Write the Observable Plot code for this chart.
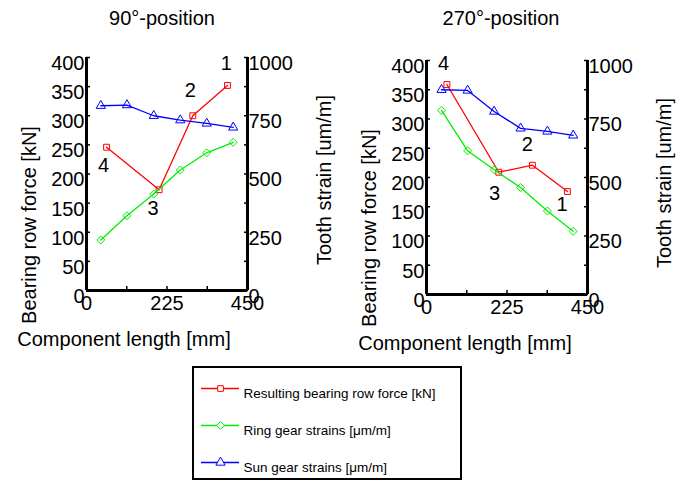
<!DOCTYPE html>
<html>
<head>
<meta charset="utf-8">
<script src="https://cdn.jsdelivr.net/npm/d3@7"></script>
<script src="https://cdn.jsdelivr.net/npm/@observablehq/plot@0.6"></script>
<style>
  html, body { margin: 0; padding: 0; background: white; }
  #root { position: relative; width: 686px; height: 482px; background: white; overflow: hidden;
          font-family: "Liberation Sans", Arial, sans-serif; color: black; }
  .lay { position: absolute; left: 0; top: 0; }
  .txt { position: absolute; white-space: nowrap; line-height: 1; font-size: 20px; }
  .rot { transform: translate(-50%, -50%) rotate(-90deg); }
  .ctr { transform: translate(-50%, -50%); }
</style>
</head>
<body>
<div id="root"></div>
<script>
// ---------- data ----------
const titles = ["90°-position", "270°-position"];
const xLabel = "Component length [mm]";
const yLeftLabel = "Bearing row force [kN]";
const yRightLabel = "Tooth strain [um/m]";
const seriesNames = ["Resulting bearing row force [kN]", "Ring gear strains [μm/m]", "Sun gear strains [μm/m]"];

// 90° position
const bearingX90 = [56, 203, 297, 394];
const bearing90 = [246, 173, 300, 352];
const strainX90 = [40, 113, 188, 262, 336, 410];
const ring90 = [217, 321, 414, 517, 591, 636];
const sun90 = [793, 796, 750, 731, 717, 700];
const annotText90 = ["1", "2", "3", "4"];
const annotX90 = [391, 290, 186, 48];
const annotY90 = [390, 343, 141, 215];

// 270° position
const bearingX270 = [57, 202, 296, 394];
const bearing270 = [359, 209, 221, 176];
const strainX270 = [42, 115, 189, 263, 338, 410];
const ring270 = [787, 614, 533, 457, 357, 270];
const sun270 = [875, 872, 782, 710, 697, 680];
const annotText270 = ["1", "2", "3", "4"];
const annotX270 = [379, 282, 190, 48];
const annotY270 = [154, 256, 173, 394];

// ticks
const xTicks = [0, 112.5, 225, 337.5, 450];
const xTickLabels = [0, 225, 450];
const leftTicks = [0, 50, 100, 150, 200, 250, 300, 350, 400];
const leftTickLabels = [0, 50, 100, 150, 200, 250, 300, 350, 400];
const rightTicks = [0, 125, 250, 375, 500, 625, 750, 875, 1000];
const rightTickLabels = [0, 250, 500, 750, 1000];

const RED = "#ff0000", GREEN = "#00ee00", BLUE = "#0000ff";
const FONT = "'Liberation Sans', Arial, sans-serif";

const zip = (xs, ys) => xs.map((x, i) => ({x, y: ys[i]}));

const root = document.getElementById("root");

function addText(str, x, y, cls) {
  const d = document.createElement("div");
  d.className = "txt " + cls;
  d.style.left = x + "px";
  d.style.top = y + "px";
  d.textContent = str;
  root.appendChild(d);
}

function panel(cfg) {
  const common = {
    width: 343, height: 360,
    marginLeft: cfg.ml, marginRight: cfg.mr, marginTop: cfg.mt, marginBottom: cfg.mb,
    style: {fontFamily: FONT, fontSize: "20px", color: "black", background: "transparent", overflow: "visible"}
  };
  const bearing = zip(cfg.bx, cfg.bearing);
  const annot = cfg.at.map((t, i) => ({t, x: cfg.ax[i], y: cfg.ay[i]}));
  const a = Plot.plot({
    ...common,
    x: {domain: [0, 450]},
    y: {domain: [0, 400]},
    marks: [
      Plot.axisY(leftTicks, {anchor: "left", tickSize: -4, strokeWidth: 1.5, tickFormat: () => "", label: null}),
      Plot.axisY(leftTickLabels, {anchor: "left", tickSize: 0, tickPadding: 2, dy: 6, fontSize: 20, tickFormat: d => String(d), label: null}),
      Plot.axisX(xTicks, {anchor: "bottom", tickSize: -4, strokeWidth: 1.5, tickFormat: () => "", label: null}),
      Plot.axisX(xTickLabels, {anchor: "bottom", tickSize: 0, tickPadding: 5, fontSize: 20, tickFormat: d => String(d), label: null}),
      Plot.ruleX([0, 450], {strokeWidth: 3}),
      Plot.ruleY([0], {strokeWidth: 3}),
      Plot.line(bearing, {x: "x", y: "y", stroke: RED, strokeWidth: 1.3}),
      Plot.dot(bearing, {x: "x", y: "y", symbol: "square", r: 3.3, stroke: RED, strokeWidth: 1, fill: "none"}),
      Plot.text(annot, {x: "x", y: "y", text: "t", fontSize: 20, fill: "black"})
    ]
  });
  const ring = zip(cfg.sx, cfg.ring);
  const sun = zip(cfg.sx, cfg.sun);
  const b = Plot.plot({
    ...common,
    x: {domain: [0, 450], axis: null},
    y: {domain: [0, 1000]},
    marks: [
      Plot.axisY(rightTicks, {anchor: "right", tickSize: -4, strokeWidth: 1.5, tickFormat: () => "", label: null}),
      Plot.axisY(rightTickLabels, {anchor: "right", tickSize: 0, tickPadding: 1, dy: 6, fontSize: 20, tickFormat: d => String(d), label: null}),
      Plot.line(ring, {x: "x", y: "y", stroke: GREEN, strokeWidth: 1.3}),
      Plot.dot(ring, {x: "x", y: "y", symbol: "diamond2", r: 3.6, stroke: GREEN, strokeWidth: 1, fill: "none"}),
      Plot.line(sun, {x: "x", y: "y", stroke: BLUE, strokeWidth: 1.3}),
      Plot.dot(sun, {x: "x", y: "y", symbol: "triangle2", r: 4.4, stroke: BLUE, strokeWidth: 1, fill: "none"})
    ]
  });
  for (const p of [a, b]) {
    p.classList.add("lay");
    p.style.left = cfg.left + "px";
    p.style.top = "0px";
    root.appendChild(p);
  }
}

panel({left: 0, ml: 86, mr: 96, mt: 57, mb: 70,
  bx: bearingX90, bearing: bearing90, sx: strainX90, ring: ring90, sun: sun90,
  at: annotText90, ax: annotX90, ay: annotY90});
panel({left: 343, ml: 83, mr: 99, mt: 60, mb: 66,
  bx: bearingX270, bearing: bearing270, sx: strainX270, ring: ring270, sun: sun270,
  at: annotText270, ax: annotX270, ay: annotY270});

// titles and axis labels
addText(titles[0], 162, 18, "ctr");
addText(titles[1], 501, 18, "ctr");
addText(xLabel, 124, 339, "ctr");
addText(xLabel, 465, 343, "ctr");
addText(yLeftLabel, 29, 225, "rot");
addText(yLeftLabel, 369, 228, "rot");
addText(yRightLabel, 324, 180, "rot");
addText(yRightLabel, 664, 183, "rot");

// legend
const legendColors = [RED, GREEN, BLUE];
const legendSymbols = ["square", "diamond2", "triangle2"];
const legendR = [3.2, 3.5, 4.4];
const legendData = seriesNames.map((name, i) => ({name, color: legendColors[i], symbol: legendSymbols[i], r: legendR[i]}));
const legend = Plot.plot({
  width: 266, height: 110,
  marginLeft: 7, marginRight: 221, marginTop: 20, marginBottom: 16,
  x: {domain: [0, 1], axis: null},
  y: {type: "point", domain: seriesNames, padding: 0, axis: null},
  style: {fontFamily: FONT, fontSize: "13.5px", color: "black", background: "transparent", overflow: "visible"},
  marks: legendData.flatMap(d => [
    Plot.tickY([d], {y: "name", stroke: d.color, strokeWidth: 1.3}),
    Plot.dot([d], {y: "name", frameAnchor: "middle", symbol: d.symbol, r: d.r, stroke: d.color, strokeWidth: 1, fill: "white"}),
    Plot.text([d], {y: "name", text: "name", frameAnchor: "right", dx: 4, dy: 5, textAnchor: "start", fontSize: 13.5, fill: "black"})
  ])
});
const lw = document.createElement("div");
lw.style.cssText = "position:absolute;left:192px;top:366px;width:266px;height:110px;border:2px solid black;background:white;";
legend.style.display = "block";
lw.appendChild(legend);
root.appendChild(lw);
</script>
</body>
</html>
